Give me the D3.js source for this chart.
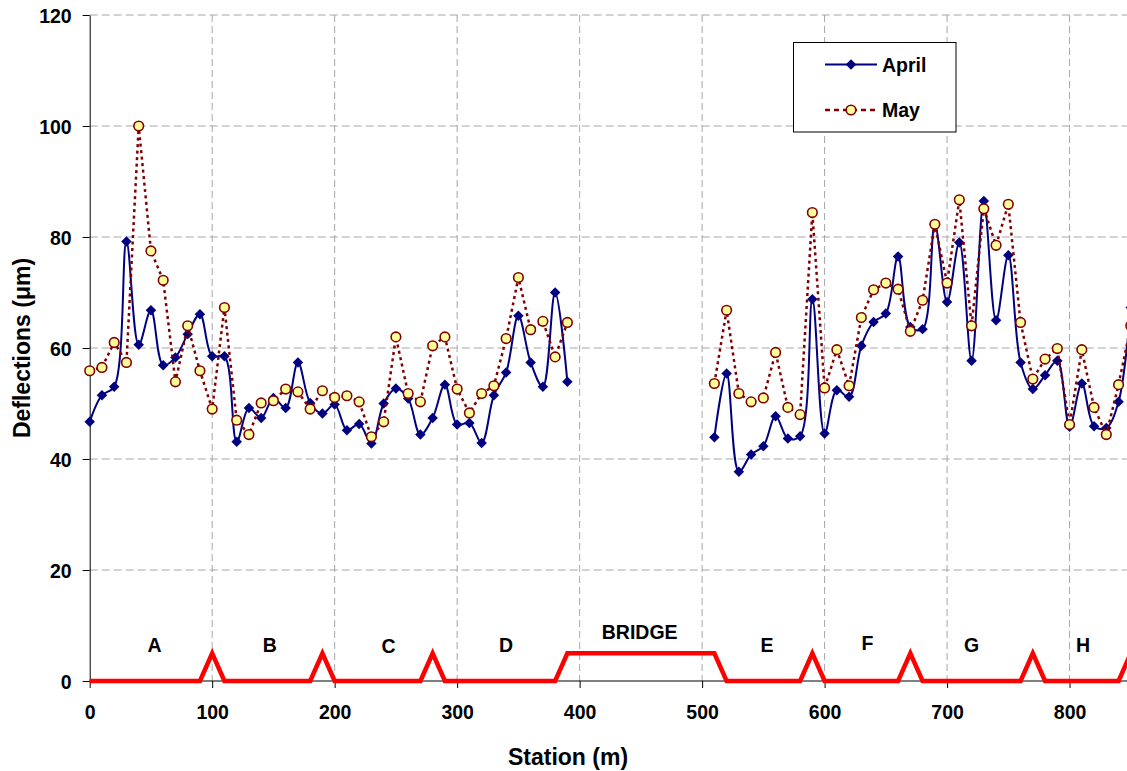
<!DOCTYPE html>
<html>
<head>
<meta charset="utf-8">
<script src="https://cdn.jsdelivr.net/npm/d3@7"></script>
<style>
  html, body { margin: 0; padding: 0; background: #ffffff; }
  svg { display: block; }
  text { font-family: "Liberation Sans", Arial, sans-serif; font-weight: bold; fill: #000; }
</style>
</head>
<body>
<svg id="chart" width="1127" height="771"></svg>
<script>
// Stations (m) measured on each side of the bridge
const stationsWest = [0, 10, 20, 30, 40, 50, 60, 70, 80, 90,
  100, 110, 120, 130, 140, 150, 160, 170, 180, 190,
  200, 210, 220, 230, 240, 250, 260, 270, 280, 290,
  300, 310, 320, 330, 340, 350, 360, 370, 380, 390];
const stationsEast = [510, 520, 530, 540, 550, 560, 570, 580, 590,
  600, 610, 620, 630, 640, 650, 660, 670, 680, 690,
  700, 710, 720, 730, 740, 750, 760, 770, 780, 790,
  800, 810, 820, 830, 840, 850];

// Deflections (µm), April survey
const aprilWest = [46.7, 51.5, 53.0, 79.2, 60.6, 66.8, 56.9, 58.3, 62.5, 66.1,
  58.5, 58.5, 43.1, 49.2, 47.4, 51.0, 49.2, 57.4, 50.1, 48.2,
  49.8, 45.2, 46.3, 42.8, 50.0, 52.7, 50.9, 44.4, 47.4, 53.4,
  46.2, 46.5, 42.9, 51.5, 55.6, 65.8, 57.4, 53.0, 70.0, 53.9];
const aprilEast = [43.9, 55.4, 37.7, 40.8, 42.3, 47.7, 43.7, 44.1, 68.8,
  44.6, 52.4, 51.2, 60.4, 64.7, 66.2, 76.5, 63.8, 63.4, 82.3,
  68.3, 79.0, 57.7, 86.5, 65.0, 76.7, 57.4, 52.6, 55.1, 57.7,
  45.8, 53.6, 45.9, 45.6, 50.3, 67.3];

// Deflections (µm), May survey
const mayWest = [55.9, 56.5, 61.0, 57.4, 100.0, 77.5, 72.2, 53.9, 64.0, 55.9,
  49.0, 67.3, 47.0, 44.4, 50.1, 50.5, 52.6, 52.1, 49.0, 52.3,
  51.1, 51.4, 50.3, 44.0, 46.7, 62.0, 51.8, 50.3, 60.4, 62.0,
  52.6, 48.3, 51.8, 53.2, 61.7, 72.7, 63.3, 64.8, 58.4, 64.6];
const mayEast = [53.6, 66.8, 51.8, 50.3, 51.0, 59.2, 49.3, 48.0, 84.4,
  52.8, 59.7, 53.2, 65.5, 70.5, 71.7, 70.6, 63.0, 68.6, 82.3,
  71.7, 86.7, 64.0, 85.1, 78.5, 85.9, 64.6, 54.4, 58.0, 59.9,
  46.2, 59.7, 49.3, 44.4, 53.4, 64.0];

// Section boundary profile (station, level) and section names
const profileStations = [0, 90, 100, 110, 180, 190, 200, 270, 280, 290, 380, 390,
  510, 520, 580, 590, 600, 660, 670, 680, 760, 770, 780, 840, 850, 860];
const profileLevels = [0, 0, 5, 0, 0, 5, 0, 0, 5, 0, 0, 5,
  5, 0, 0, 5, 0, 0, 5, 0, 0, 5, 0, 0, 5, 0];
const sectionNames = ["A", "B", "C", "D", "BRIDGE", "E", "F", "G", "H"];
const sectionStations = [53, 147, 244, 340, 449, 553, 635, 720, 811];
const sectionLevels = [5.3, 5.3, 5.0, 5.3, 7.5, 5.3, 5.6, 5.3, 5.3];

const xTicks = [0, 100, 200, 300, 400, 500, 600, 700, 800];
const yTicks = [0, 20, 40, 60, 80, 100, 120];

const svg = d3.select("#chart");
const x = d3.scaleLinear().domain([0, 850]).range([89.7, 1130.8]);
const y = d3.scaleLinear().domain([0, 120]).range([681, 15]);

const zip = (s, v) => s.map((d, i) => [d, v[i]]);

// grid
const grid = svg.append("g");
grid.selectAll("line.h").data(yTicks.filter(d => d > 0)).join("line")
  .attr("x1", x(0)).attr("x2", 1127)
  .attr("y1", d => y(d)).attr("y2", d => y(d))
  .attr("stroke", "#a6a6a6").attr("stroke-width", 1)
  .attr("stroke-dasharray", "8,4");
grid.selectAll("line.v").data(xTicks.filter(d => d > 0)).join("line")
  .attr("x1", d => x(d)).attr("x2", d => x(d))
  .attr("y1", y(120)).attr("y2", y(0))
  .attr("stroke", "#a6a6a6").attr("stroke-width", 1)
  .attr("stroke-dasharray", "7,4");

// axes
const fontSize = "19.5px";
const xAxis = svg.append("g").attr("transform", `translate(0,${y(0)})`)
  .call(d3.axisBottom(x).tickValues(xTicks).tickSize(7).tickSizeOuter(0).tickFormat(d3.format("d")));
xAxis.select(".domain").attr("stroke", "#000").attr("d", `M${x(0)},0H1127`);
xAxis.selectAll(".tick line").attr("stroke", "#000");
xAxis.selectAll(".tick text").attr("y", 38).attr("dy", 0)
  .style("font-size", fontSize).style("font-family", "'Liberation Sans', Arial, sans-serif").style("font-weight", "bold");

const yAxis = svg.append("g").attr("transform", `translate(${x(0)},0)`)
  .call(d3.axisLeft(y).tickValues(yTicks).tickSize(7).tickPadding(11).tickSizeOuter(0));
yAxis.select(".domain").attr("stroke", "#000");
yAxis.selectAll(".tick line").attr("stroke", "#000");
yAxis.selectAll(".tick text").attr("dy", "0.36em")
  .style("font-size", fontSize).style("font-family", "'Liberation Sans', Arial, sans-serif").style("font-weight", "bold");

// axis titles
svg.append("text").attr("x", 568).attr("y", 765).attr("text-anchor", "middle")
  .style("font-size", "23px").text("Station (m)");
svg.append("text").attr("transform", "translate(29.5,348) rotate(-90)").attr("text-anchor", "middle")
  .style("font-size", "23px").text("Deflections (μm)");

// section profile
const profileLine = d3.line().x(d => x(d[0])).y(d => y(d[1]));
svg.append("path").datum(zip(profileStations, profileLevels))
  .attr("d", profileLine).attr("fill", "none")
  .attr("stroke", "#ff0000").attr("stroke-width", 4.5).attr("stroke-linejoin", "miter");
svg.append("g").selectAll("text").data(sectionNames).join("text")
  .attr("x", (d, i) => x(sectionStations[i]))
  .attr("y", (d, i) => y(sectionLevels[i]))
  .attr("text-anchor", "middle").style("font-size", fontSize).text(d => d);

// series
const smooth = d3.line().x(d => x(d[0])).y(d => y(d[1])).curve(d3.curveCatmullRom.alpha(0.5));
const straight = d3.line().x(d => x(d[0])).y(d => y(d[1]));
const diamond = d3.symbol().type(d3.symbolDiamond2).size(70);
const markerR = 4.8;

const april = [zip(stationsWest, aprilWest), zip(stationsEast, aprilEast)];
const may = [zip(stationsWest, mayWest), zip(stationsEast, mayEast)];

const gA = svg.append("g");
april.forEach(seg => {
  gA.append("path").datum(seg).attr("d", smooth).attr("fill", "none")
    .attr("stroke", "#000080").attr("stroke-width", 2);
});
gA.selectAll("path.m").data(april.flat()).join("path")
  .attr("transform", d => `translate(${x(d[0])},${y(d[1])})`)
  .attr("d", diamond).attr("fill", "#000080");

const gM = svg.append("g");
may.forEach(seg => {
  gM.append("path").datum(seg).attr("d", straight).attr("fill", "none")
    .attr("stroke", "#800000").attr("stroke-width", 2.5).attr("stroke-dasharray", "3,3.5");
});
gM.selectAll("circle").data(may.flat()).join("circle")
  .attr("cx", d => x(d[0])).attr("cy", d => y(d[1])).attr("r", markerR)
  .attr("fill", "#ffff99").attr("stroke", "#800000").attr("stroke-width", 1.6);

// legend
const lg = svg.append("g");
lg.append("rect").attr("x", 793.5).attr("y", 42.5).attr("width", 162.5).attr("height", 89.5)
  .attr("fill", "#fff").attr("stroke", "#000").attr("stroke-width", 1);
lg.append("line").attr("x1", 825).attr("x2", 877).attr("y1", 64.5).attr("y2", 64.5)
  .attr("stroke", "#000080").attr("stroke-width", 2);
lg.append("path").attr("transform", "translate(851,64.5)").attr("d", diamond).attr("fill", "#000080");
lg.append("text").attr("x", 882).attr("y", 71.5).style("font-size", fontSize).text("April");
lg.append("line").attr("x1", 825).attr("x2", 877).attr("y1", 110).attr("y2", 110)
  .attr("stroke", "#800000").attr("stroke-width", 2.5).attr("stroke-dasharray", "5,4");
lg.append("circle").attr("cx", 851).attr("cy", 110).attr("r", markerR)
  .attr("fill", "#ffff99").attr("stroke", "#800000").attr("stroke-width", 1.6);
lg.append("text").attr("x", 882).attr("y", 117).style("font-size", fontSize).text("May");
</script>
</body>
</html>
